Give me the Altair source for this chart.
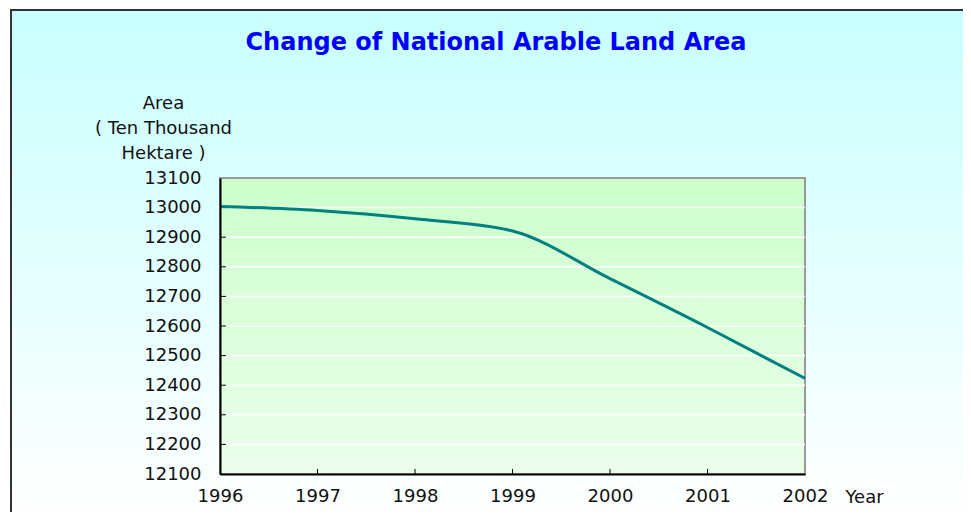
import altair as alt
import pandas as pd

years = [1996, 1997, 1998, 1999, 2000, 2001, 2002]
area = [13004, 12990, 12962, 12921, 12760, 12595, 12423]
y_ticks = [12100, 12200, 12300, 12400, 12500, 12600, 12700, 12800, 12900, 13000, 13100]
grid_vals = [12200, 12300, 12400, 12500, 12600, 12700, 12800, 12900, 13000]
x_inner_ticks = [1997, 1998, 1999, 2000, 2001]
title_text = "Change of National Arable Land Area"
y_title = ["Area", "( Ten Thousand", "Hektare )"]
x_title = "Year"

W, H = 585, 296
FONT = "DejaVu Sans"

df = pd.DataFrame({"year": years, "area": area})
grid_df = pd.DataFrame({"area": grid_vals})
xt_df = pd.DataFrame({"year": x_inner_ticks})
one = alt.Data(values=[{}])

xscale = alt.Scale(domain=[1996, 2002], nice=False, zero=False)
yscale = alt.Scale(domain=[12100, 13100], nice=False, zero=False)

xaxis = alt.Axis(values=years, format="d", grid=False, ticks=False,
                 domainColor="#000000", domainWidth=2,
                 labelFont=FONT, labelFontSize=18, labelColor="#111111",
                 labelPadding=13, labelFlush=False,
                 title=x_title, titleFont=FONT, titleFontSize=18,
                 titleFontWeight="normal", titleColor="#111111",
                 titleX=625, titleY=28, titleAlign="left",
                 titleBaseline="alphabetic", zindex=1)
yaxis = alt.Axis(values=y_ticks, format="d", grid=False, ticks=False,
                 domainColor="#000000", domainWidth=2,
                 labelFont=FONT, labelFontSize=18, labelColor="#111111",
                 labelPadding=19, labelFlush=False,
                 title=y_title, titleFont=FONT, titleFontSize=18,
                 titleFontWeight="normal", titleColor="#111111",
                 titleAngle=0, titleAlign="center", titleBaseline="alphabetic",
                 titleX=-57, titleY=-70, titleLineHeight=25, zindex=1)

X = alt.X("year:Q", scale=xscale, axis=xaxis)
Y = alt.Y("area:Q", scale=yscale, axis=yaxis)

outer_bg = alt.Chart(one).mark_rect(
    fill=alt.Gradient(gradient="linear",
                      stops=[alt.GradientStop(color="#c8ffff", offset=0),
                             alt.GradientStop(color="#ffffff", offset=1)],
                      x1=0, x2=0, y1=0, y2=1),
    stroke="#333333", strokeWidth=2
).encode(x=alt.value(-209), x2=alt.value(820), y=alt.value(-168), y2=alt.value(345))

plot_bg = alt.Chart(one).mark_rect(
    fill=alt.Gradient(gradient="linear",
                      stops=[alt.GradientStop(color="#ccffcc", offset=0),
                             alt.GradientStop(color="#eaffea", offset=1)],
                      x1=0, x2=0, y1=0, y2=1),
    stroke="#999999", strokeWidth=2
).encode(x=alt.value(0), x2=alt.value(W), y=alt.value(0), y2=alt.value(H))

grid = alt.Chart(grid_df).mark_rule(color="#ffffff", strokeWidth=1.5).encode(y=Y)

yt = alt.Chart(grid_df).mark_rule(color="#000000", strokeWidth=1).encode(
    y=Y, x=alt.value(0), x2=alt.value(6)
)

xt = alt.Chart(xt_df).mark_rule(color="#000000", strokeWidth=1).encode(
    x=X, y=alt.value(H), y2=alt.value(H - 5)
)

line = alt.Chart(df).mark_line(color="#008080", strokeWidth=3, interpolate="monotone").encode(
    x=X, y=Y
)

title = alt.Chart(alt.Data(values=[{"t": title_text}])).mark_text(
    font=FONT, fontSize=24, fontWeight="bold", color="#0000ff",
    align="center", baseline="alphabetic"
).encode(text="t:N", x=alt.value(276), y=alt.value(-128))

chart = alt.layer(outer_bg, plot_bg, grid, yt, xt, line, title).properties(
    width=W, height=H,
    autosize=alt.AutoSizeParams(type="none"),
    padding={"left": 212, "top": 170, "right": 158, "bottom": 38},
).configure_view(stroke=None)

chart.save("out.html", embed_options={"renderer": "svg", "actions": False})
